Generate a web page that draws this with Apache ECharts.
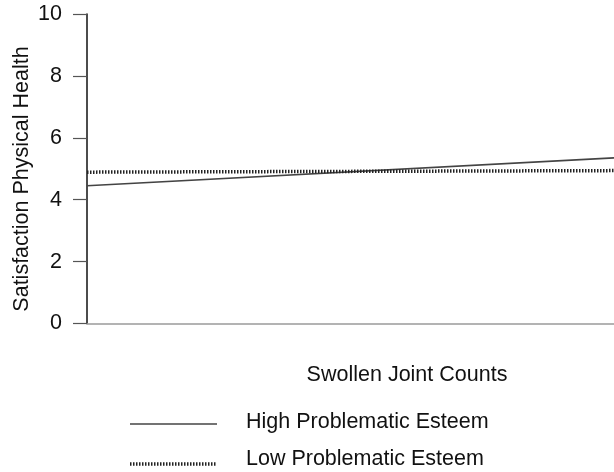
<!DOCTYPE html>
<html>
<head>
<meta charset="utf-8">
<script src="https://cdn.jsdelivr.net/npm/echarts@6/dist/echarts.min.js"></script>
<style>
  html, body { margin: 0; padding: 0; background: #fff; }
  #chart { width: 614px; height: 472px; }
</style>
</head>
<body>
<div id="chart"></div>
<script>
// Swollen joint count levels (low to high) on the x axis
var jointLevels = ['Low', 'High'];
// Predicted satisfaction with physical health for each esteem group
var highEsteem = [4.45, 5.35];
var lowEsteem = [4.89, 4.94];
var seriesNames = ['High Problematic Esteem', 'Low Problematic Esteem'];
var yTicks = [0, 2, 4, 6, 8, 10];

var FONT = 'Liberation Sans, Arial, sans-serif';
var FS = 21.5;

var solidStyle = { color: '#444', width: 1.6, type: 'solid' };
var dottedStyle = { color: '#222', width: 3.5, type: [1.5, 1.5] };

// Legend rows: sample line followed by the series name
function legendRow(lineY, textY, name, style) {
  return [
    {
      type: 'line',
      shape: { x1: 130, y1: lineY, x2: 217, y2: lineY },
      style: { stroke: style.color, lineWidth: style.width, lineDash: style.type === 'solid' ? null : style.type }
    },
    {
      type: 'text',
      x: 246, y: textY,
      style: { text: name, fill: '#111', font: FS + 'px ' + FONT, textAlign: 'left', textVerticalAlign: 'middle' }
    }
  ];
}

var chart = echarts.init(document.getElementById('chart'), null, { renderer: 'canvas' });

chart.setOption({
  animation: false,
  backgroundColor: '#ffffff',
  grid: { left: 87, right: 0, top: 14, bottom: 148.5, containLabel: false },
  xAxis: {
    type: 'category',
    data: jointLevels,
    boundaryGap: false,
    axisLine: { show: true, lineStyle: { color: '#9a9a9a', width: 1.5 } },
    axisTick: { show: false },
    axisLabel: { show: false },
    splitLine: { show: false }
  },
  yAxis: {
    type: 'value',
    min: yTicks[0],
    max: yTicks[yTicks.length - 1],
    interval: 2,
    axisLine: { show: true, onZero: false, lineStyle: { color: '#111', width: 1.5 } },
    axisTick: { show: true, length: 14, lineStyle: { color: '#555', width: 1.2 } },
    axisLabel: { color: '#111', fontFamily: FONT, fontSize: FS, margin: 25 },
    splitLine: { show: false }
  },
  legend: { show: false },
  graphic: [
    {
      type: 'text',
      x: 22, y: 179,
      rotation: Math.PI / 2,
      style: {
        text: 'Satisfaction Physical Health',
        fill: '#111', font: FS + 'px ' + FONT,
        textAlign: 'center', textVerticalAlign: 'middle'
      }
    },
    {
      type: 'text',
      x: 407, y: 375,
      style: {
        text: 'Swollen Joint Counts',
        fill: '#111', font: FS + 'px ' + FONT,
        textAlign: 'center', textVerticalAlign: 'middle'
      }
    }
  ].concat(legendRow(424, 422, seriesNames[0], solidStyle))
   .concat(legendRow(464, 459, seriesNames[1], dottedStyle)),
  series: [
    {
      name: seriesNames[0],
      type: 'line',
      data: highEsteem,
      symbol: 'none',
      lineStyle: solidStyle,
      itemStyle: { color: solidStyle.color }
    },
    {
      name: seriesNames[1],
      type: 'line',
      data: lowEsteem,
      symbol: 'none',
      lineStyle: dottedStyle,
      itemStyle: { color: dottedStyle.color }
    }
  ]
});
</script>
</body>
</html>
